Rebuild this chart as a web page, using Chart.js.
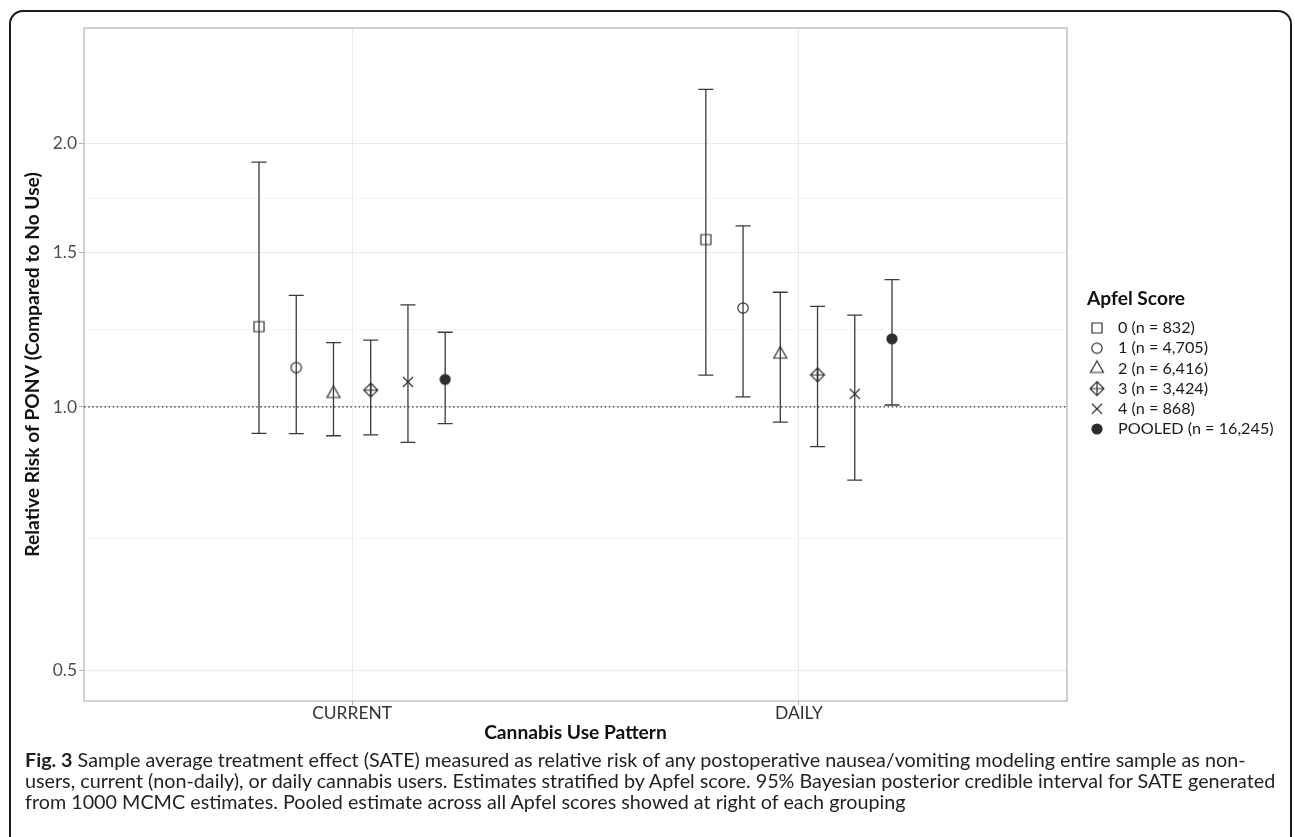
<!DOCTYPE html>
<html>
<head>
<meta charset="utf-8">
<title>Fig. 3 SATE by Apfel score</title>
<script src="https://cdn.jsdelivr.net/npm/chart.js@4.4.1/dist/chart.umd.min.js"></script>
<style>
  html, body { margin: 0; padding: 0; background: #fff; }
  body { width: 1295px; height: 837px; position: relative; overflow: hidden; }
  #frame {
    position: absolute; left: 9px; top: 10px; width: 1283px; height: 900px;
    box-sizing: border-box; border: 2px solid #1b1b1b; border-radius: 14px;
  }
  #chart { position: absolute; left: 0; top: 0; }
  #caption {
    position: absolute; left: 25px; top: 749px;
    font-family: Lato, "Open Sans", sans-serif; color: #231f20; line-height: 21px;
    white-space: nowrap;
  }
</style>
</head>
<body>
<div id="frame"></div>
<canvas id="chart" width="1295" height="750"></canvas>
<div id="caption">
  <div id="cap1"><b>Fig. 3</b> Sample average treatment effect (SATE) measured as relative risk of any postoperative nausea/vomiting modeling entire sample as non-</div>
  <div>users, current (non-daily), or daily cannabis users. Estimates stratified by Apfel score. 95% Bayesian posterior credible interval for SATE generated</div>
  <div>from 1000 MCMC estimates. Pooled estimate across all Apfel scores showed at right of each grouping</div>
</div>
<script>
//
// Data
var categories = ['CURRENT', 'DAILY'];
var scoreLabels = ['0 (n = 832)', '1 (n = 4,705)', '2 (n = 6,416)', '3 (n = 3,424)', '4 (n = 868)', 'POOLED (n = 16,245)'];

var currentEst  = [1.235, 1.109, 1.036, 1.045, 1.068, 1.075];
var currentLow  = [0.933, 0.932, 0.927, 0.929, 0.911, 0.957];
var currentHigh = [1.904, 1.341, 1.184, 1.192, 1.308, 1.217];

var dailyEst  = [1.553, 1.297, 1.149, 1.088, 1.035, 1.196];
var dailyLow  = [1.087, 1.027, 0.961, 0.901, 0.825, 1.005];
var dailyHigh = [2.305, 1.610, 1.352, 1.303, 1.273, 1.398];

var yTicks = [0.5, 1.0, 1.5, 2.0];
var yLimits = [0.5, 2.5];
var referenceValue = 1.0;

var yTitle = 'Relative Risk of PONV (Compared to No Use)';
var xTitle = 'Cannabis Use Pattern';
var legendTitle = 'Apfel Score';

//
// Styles
var FONT = 'Lato, "Open Sans", sans-serif';
var inkColor = '#2e2e2e';
var markerShapes = ['square', 'circle', 'triangle', 'diamondPlus', 'cross', 'dot'];

var estimates = [currentEst, dailyEst];
var lows = [currentLow, dailyLow];
var highs = [currentHigh, dailyHigh];

// position dodge of 0.5 shared by the six scores
function dodge(i) {
  return (i - (scoreLabels.length - 1) / 2) * 0.5 / scoreLabels.length;
}

// log scale limits expanded by 5% like ggplot
var logLo = Math.log(yLimits[0]), logHi = Math.log(yLimits[1]);
var yMin = Math.exp(logLo - 0.05 * (logHi - logLo));
var yMax = Math.exp(logHi + 0.05 * (logHi - logLo));
var xMin = 1 - 0.6, xMax = categories.length + 0.6;

// major ticks plus geometric midpoints as minor ticks
var yTickObjects = [];
yTicks.forEach(function(v, i) {
  yTickObjects.push({ value: v, minor: false });
  if (i < yTicks.length - 1) {
    yTickObjects.push({ value: Math.sqrt(v * yTicks[i + 1]), minor: true });
  }
});

//
// Font sizes fitted to the text widths measured on the figure
var measureCtx = document.createElement('canvas').getContext('2d');
function textWidth(text, weight, size) {
  measureCtx.font = weight + ' ' + size + 'px ' + FONT;
  return measureCtx.measureText(text).width;
}
function fitFont(text, weight, target) {
  return Math.round(1000 * target / textWidth(text, weight, 100)) / 10;
}
var tickSize = fitFont('CURRENT', 'normal', 80);
var titleSize = fitFont(yTitle, 'bold', 384);
var legendSize = fitFont('POOLED (n = 16,245)', 'normal', 156);
var legendTitleSize = fitFont(legendTitle, 'bold', 98);

var cap1 = document.getElementById('cap1');
var capBold = textWidth('Fig. 3', 'bold', 100);
var capRest = textWidth(cap1.textContent.replace('Fig. 3', ''), 'normal', 100);
document.getElementById('caption').style.fontSize = (100 * 1222 / (capBold + capRest)).toFixed(2) + 'px';

//
// Marker images (ggplot shapes 0, 1, 2, 9, 4, 16)
function makeMarker(shape) {
  var c = document.createElement('canvas');
  c.width = 20; c.height = 20;
  var g = c.getContext('2d');
  var m = 10;
  g.strokeStyle = inkColor;
  g.fillStyle = inkColor;
  g.lineWidth = 1.2;
  g.beginPath();
  if (shape === 'square') {
    g.rect(m - 5, m - 5, 10, 10);
  } else if (shape === 'circle') {
    g.arc(m, m, 5.2, 0, Math.PI * 2);
  } else if (shape === 'triangle') {
    g.moveTo(m, m - 7.5);
    g.lineTo(m + 6.5, m + 4);
    g.lineTo(m - 6.5, m + 4);
    g.closePath();
  } else if (shape === 'diamondPlus') {
    g.moveTo(m, m - 7);
    g.lineTo(m + 7, m);
    g.lineTo(m, m + 7);
    g.lineTo(m - 7, m);
    g.closePath();
    g.moveTo(m - 7, m); g.lineTo(m + 7, m);
    g.moveTo(m, m - 7); g.lineTo(m, m + 7);
  } else if (shape === 'cross') {
    g.moveTo(m - 5, m - 5); g.lineTo(m + 5, m + 5);
    g.moveTo(m + 5, m - 5); g.lineTo(m - 5, m + 5);
  } else {
    g.arc(m, m, 5.6, 0, Math.PI * 2);
    g.fill();
    return c;
  }
  g.stroke();
  return c;
}
var markers = markerShapes.map(makeMarker);

//
// Plugins
var panelBorder = {
  id: 'panelBorder',
  beforeDatasetsDraw: function(chart) {
    var a = chart.chartArea, ctx = chart.ctx;
    ctx.save();
    ctx.strokeStyle = '#b3b3b3';
    ctx.lineWidth = 1.2;
    ctx.strokeRect(a.left, a.top, a.right - a.left, a.bottom - a.top);
    ctx.restore();
  }
};

var errorBars = {
  id: 'errorBars',
  beforeDatasetsDraw: function(chart) {
    var ctx = chart.ctx, xs = chart.scales.x, ys = chart.scales.y;
    ctx.save();
    ctx.strokeStyle = '#3a3a3a';
    ctx.lineWidth = 1.3;
    scoreLabels.forEach(function(label, i) {
      categories.forEach(function(cat, j) {
        var x = xs.getPixelForValue(j + 1 + dodge(i));
        var yl = ys.getPixelForValue(lows[j][i]);
        var yh = ys.getPixelForValue(highs[j][i]);
        ctx.beginPath();
        ctx.moveTo(x, yl); ctx.lineTo(x, yh);
        ctx.moveTo(x - 7.5, yl); ctx.lineTo(x + 7.5, yl);
        ctx.moveTo(x - 7.5, yh); ctx.lineTo(x + 7.5, yh);
        ctx.stroke();
      });
    });
    ctx.restore();
  }
};

var apfelLegend = {
  id: 'apfelLegend',
  afterDraw: function(chart) {
    var a = chart.chartArea, ctx = chart.ctx;
    var x0 = a.right + 20;
    var titleY = (a.top + a.bottom) / 2 - 65.5;
    ctx.save();
    ctx.textBaseline = 'middle';
    ctx.textAlign = 'left';
    ctx.fillStyle = '#111';
    ctx.font = 'bold ' + legendTitleSize + 'px ' + FONT;
    ctx.fillText(legendTitle, x0, titleY);
    ctx.font = legendSize + 'px ' + FONT;
    ctx.fillStyle = '#1a1a1a';
    scoreLabels.forEach(function(label, i) {
      var y = titleY + 29 + i * 20.2;
      var img = markers[i];
      ctx.drawImage(img, x0 + 10 - img.width / 2, y - img.height / 2);
      ctx.fillText(label, x0 + 31, y);
    });
    ctx.restore();
  }
};

//
// Datasets
var datasets = scoreLabels.map(function(label, i) {
  return {
    label: label,
    data: categories.map(function(cat, j) {
      return { x: j + 1 + dodge(i), y: estimates[j][i] };
    }),
    pointStyle: markers[i],
    pointRadius: 6
  };
});
datasets.push({
  type: 'line',
  label: 'No difference',
  data: [{ x: xMin, y: referenceValue }, { x: xMax, y: referenceValue }],
  borderColor: '#333',
  borderWidth: 1.2,
  borderDash: [1.5, 2.6],
  pointRadius: 0,
  order: 10
});

//
// Draw Chart
new Chart(document.getElementById('chart'), {
  type: 'scatter',
  data: { datasets: datasets },
  options: {
    responsive: false,
    animation: false,
    events: [],
    layout: { padding: { top: 28, right: 228, bottom: 0, left: 0 } },
    plugins: {
      legend: { display: false },
      tooltip: { enabled: false }
    },
    scales: {
      x: {
        type: 'linear',
        min: xMin,
        max: xMax,
        afterBuildTicks: function(scale) {
          scale.ticks = categories.map(function(c, i) { return { value: i + 1 }; });
        },
        afterFit: function(scale) { scale.height = 49; },
        ticks: {
          autoSkip: false,
          maxRotation: 0,
          padding: 0,
          color: '#333',
          font: { family: FONT, size: tickSize, lineHeight: 1 },
          callback: function(v) { return categories[Math.round(v) - 1]; }
        },
        grid: { color: '#ebebeb', tickColor: '#b3b3b3', tickLength: 4, lineWidth: 1 },
        border: { display: false },
        title: {
          display: true,
          text: xTitle,
          color: '#111',
          font: { family: FONT, size: titleSize, weight: 'bold', lineHeight: 1.2 },
          padding: { top: 0, bottom: 17 - titleSize * 0.6 }
        }
      },
      y: {
        type: 'logarithmic',
        min: yMin,
        max: yMax,
        afterBuildTicks: function(scale) {
          scale.ticks = yTickObjects.map(function(t) { return { value: t.value, minor: t.minor }; });
        },
        afterFit: function(scale) { scale.width = 84; },
        ticks: {
          autoSkip: false,
          padding: 2,
          color: '#4d4d4d',
          font: { family: FONT, size: tickSize },
          callback: function(v, i, ticks) { return ticks[i].minor ? '' : v.toFixed(1); }
        },
        grid: {
          lineWidth: 1,
          tickLength: 5,
          color: function(c) { return c.tick && c.tick.minor ? '#f4f4f4' : '#ebebeb'; },
          tickColor: function(c) { return c.tick && c.tick.minor ? 'rgba(0,0,0,0)' : '#b3b3b3'; }
        },
        border: { display: false },
        title: {
          display: true,
          text: yTitle,
          color: '#111',
          font: { family: FONT, size: titleSize, weight: 'bold', lineHeight: 1.2 },
          padding: { top: 33 - titleSize * 0.6, bottom: 0 }
        }
      }
    }
  },
  plugins: [panelBorder, errorBars, apfelLegend]
});
</script>
</body>
</html>
